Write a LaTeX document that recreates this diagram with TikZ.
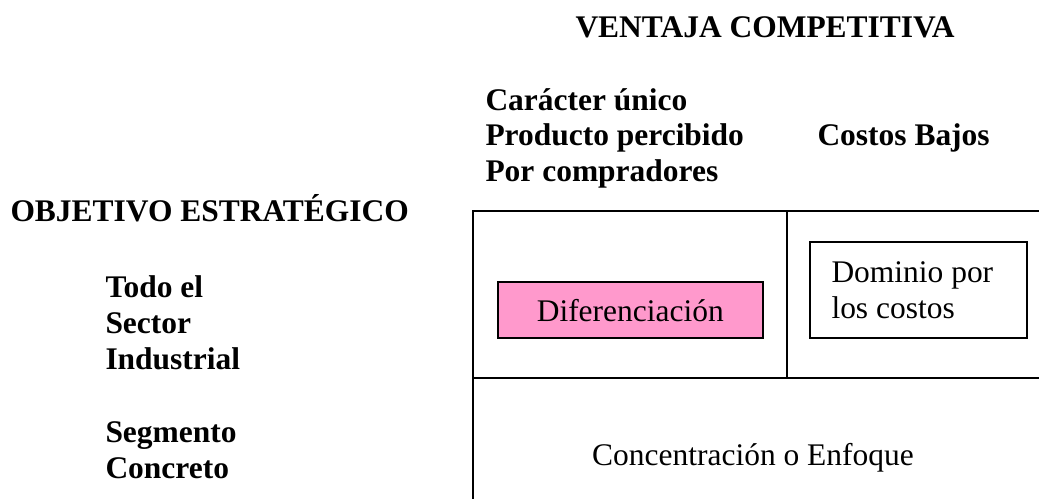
\documentclass[tikz,border=0pt]{standalone}
\usepackage{fontspec}
\setmainfont{Liberation Serif}
\definecolor{rosa}{RGB}{255,153,204}
\tikzset{every picture/.style={line width=0.75pt}}
\tikzset{
  texto/.style={inner sep=0pt, align=left, font=\fontsize{23.6}{27}\selectfont},
  titulo/.style={texto, font=\fontsize{23.6}{27}\selectfont\bfseries}
}

\begin{document}
\begin{tikzpicture}[x=0.75pt,y=0.75pt,yscale=-1,xscale=1]
	\path [use as bounding box] (0,0) rectangle (1039,499);

	%Straight Lines [id:grid]
	\draw [line width=1.5]  (1039,211) -- (473,211) -- (473,499) ;
	\draw [line width=1.5]  (473,378) -- (1039,378) ;
	\draw [line width=1.5]  (787,211) -- (787,378) ;
	%Shape: Rectangle [id:dif]
	\draw [fill=rosa, line width=1.5]  (497.7,281.7) rectangle (762.8,338.3) ;
	%Shape: Rectangle [id:dom]
	\draw [line width=1.5]  (810,242) rectangle (1026.8,338.3) ;

	% Text Node
	\draw (575,38) node [titulo, anchor=base west] (ventaja) {VENTAJA COMPETITIVA};
	% Text Node
	\draw (485,182) node [titulo, anchor=base west] (caracter) {Carácter único\\Producto percibido\\Por compradores};
	% Text Node
	\draw (817,146) node [titulo, anchor=base west] (costos) {Costos Bajos};
	% Text Node
	\draw (10,222) node [titulo, anchor=base west] (objetivo) {OBJETIVO ESTRATÉGICO};
	% Text Node
	\draw (105,369) node [titulo, anchor=base west] (todo) {Todo el\\Sector\\Industrial};
	% Text Node
	\draw (105,478) node [titulo, anchor=base west] (segmento) {Segmento\\Concreto};
	% Text Node
	\draw (630.25,321.7) node [texto, anchor=base] (diferenciacion) {Diferenciación};
	% Text Node
	\draw (831,318) node [texto, anchor=base west] (dominio) {Dominio por\\los costos};
	% Text Node
	\draw (753,465) node [texto, anchor=base] (concentracion) {Concentración o Enfoque};

\end{tikzpicture}
\end{document}
